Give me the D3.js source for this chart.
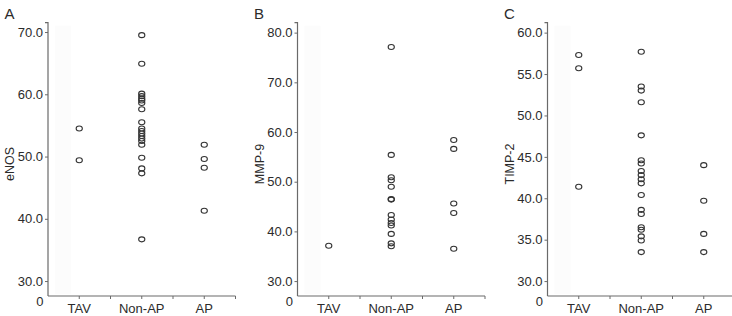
<!DOCTYPE html>
<html>
<head>
<meta charset="utf-8">
<script src="https://cdn.jsdelivr.net/npm/d3@7"></script>
<style>
  body { margin: 0; background: #fff; }
  svg { display: block; }
  text { font-family: Arial, "Liberation Sans", sans-serif; fill: #2b2b2b; }
</style>
</head>
<body>
<svg id="chart" width="732" height="316"></svg>
<script>
// ---- data ----
const categories = ["TAV", "Non-AP", "AP"];

const eNOS_TAV = [54.5, 49.4];
const eNOS_NonAP = [69.5, 64.9, 60.1, 59.7, 59.3, 59.0, 58.6, 57.6, 55.5, 54.5, 54.1, 53.7, 53.3, 52.9, 52.5, 51.9, 49.8, 48.1, 47.3, 36.7];
const eNOS_AP = [51.9, 49.6, 48.2, 41.3];

const MMP9_TAV = [37.1];
const MMP9_NonAP = [77.1, 55.4, 50.9, 50.3, 49.0, 46.5, 46.4, 43.3, 42.4, 41.7, 41.2, 39.5, 37.6, 37.0];
const MMP9_AP = [58.4, 56.6, 45.6, 43.7, 36.5];

const TIMP2_TAV = [57.3, 55.7, 41.4];
const TIMP2_NonAP = [57.7, 53.5, 53.0, 51.6, 47.6, 44.6, 44.2, 43.3, 42.8, 42.3, 41.8, 40.4, 38.6, 38.1, 36.5, 36.2, 35.4, 34.9, 33.5];
const TIMP2_AP = [44.0, 39.7, 35.7, 33.5];

const eNOS_ticks = [30, 40, 50, 60, 70];
const MMP9_ticks = [30, 40, 50, 60, 70, 80];
const TIMP2_ticks = [30, 35, 40, 45, 50, 55, 60];

const panels = [
  { letter: "A", title: "eNOS", series: [eNOS_TAV, eNOS_NonAP, eNOS_AP], ticks: eNOS_ticks, domain: [27.6, 71.5], x0: 48 },
  { letter: "B", title: "MMP-9", series: [MMP9_TAV, MMP9_NonAP, MMP9_AP], ticks: MMP9_ticks, domain: [27.0, 82.0], x0: 297.5 },
  { letter: "C", title: "TIMP-2", series: [TIMP2_TAV, TIMP2_NonAP, TIMP2_AP], ticks: TIMP2_ticks, domain: [28.2, 61.2], x0: 547.5 }
];

// ---- drawing ----
const svg = d3.select("#chart");
const yTop = 22.7, yBot = 296, bandW = 62.5;
const axisColor = "#6a6a6a";

panels.forEach(p => {
  const g = svg.append("g");
  const x = d3.scaleBand().domain(categories).range([p.x0, p.x0 + bandW * 3]).padding(0);
  const y = d3.scaleLinear().domain(p.domain).range([yBot, yTop]);

  // very faint band next to axis
  g.append("rect")
    .attr("x", p.x0 + 7).attr("y", yTop + 3)
    .attr("width", 16).attr("height", yBot - yTop - 5)
    .attr("fill", "#fcfcfc");

  // y axis
  const yAxis = d3.axisLeft(y).tickValues(p.ticks).tickFormat(d3.format(".1f")).tickSize(3).tickPadding(2);
  const ya = g.append("g").attr("transform", `translate(${p.x0},0)`).call(yAxis);
  ya.select(".domain").attr("d", `M-3,${yTop}H0V${yBot}`).attr("stroke", axisColor).attr("stroke-width", 1.2);
  ya.selectAll(".tick line").attr("stroke", axisColor);
  ya.selectAll(".tick text").attr("font-size", 13).attr("fill", "#2b2b2b").attr("font-family", "Arial, 'Liberation Sans', sans-serif");

  // x axis line + ticks
  const xa = g.append("g").attr("transform", `translate(0,${yBot})`);
  xa.append("line").attr("x1", p.x0).attr("x2", p.x0 + bandW * 3).attr("stroke", axisColor).attr("stroke-width", 1.2);
  const tickXs = [];
  categories.forEach(c => { tickXs.push(x(c) + x.bandwidth() / 2); tickXs.push(x(c) + x.bandwidth()); });
  tickXs.forEach(t => xa.append("line").attr("x1", t).attr("x2", t).attr("y1", 0).attr("y2", 3).attr("stroke", axisColor));
  categories.forEach(c => {
    xa.append("text").attr("x", x(c) + x.bandwidth() / 2).attr("y", 16.5)
      .attr("text-anchor", "middle").attr("font-size", 13).text(c);
  });

  // origin "0"
  g.append("text").attr("x", p.x0 - 4.5).attr("y", 306).attr("text-anchor", "end").attr("font-size", 13).text("0");

  // y title
  g.append("text")
    .attr("transform", `translate(${p.x0 - 34},164) rotate(-90)`)
    .attr("text-anchor", "middle").attr("font-size", 12.5).text(p.title);

  // panel letter
  g.append("text").attr("x", p.x0 - 43.5).attr("y", 19).attr("font-size", 15).text(p.letter);

  // points
  p.series.forEach((vals, i) => {
    const cx = x(categories[i]) + x.bandwidth() / 2;
    g.selectAll(null).data(vals).enter().append("ellipse")
      .attr("cx", cx).attr("cy", d => y(d))
      .attr("rx", 3.1).attr("ry", 2.5)
      .attr("fill", "none").attr("stroke", "#333").attr("stroke-width", 1.1);
  });
});
</script>
</body>
</html>
